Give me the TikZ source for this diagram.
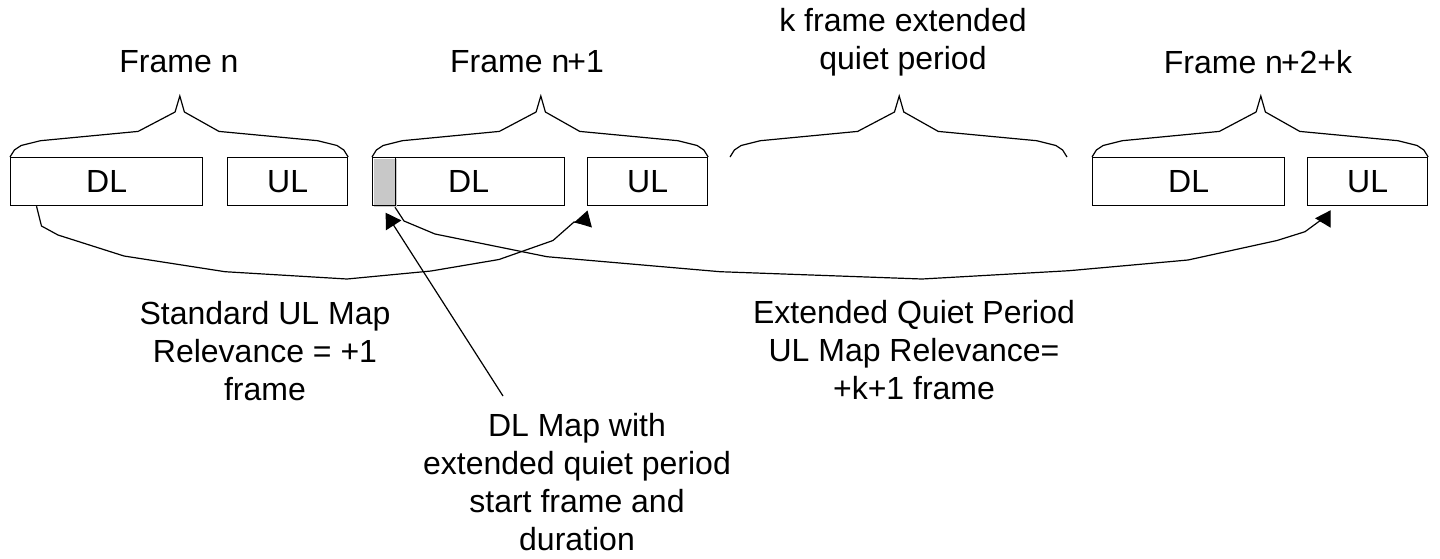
\documentclass[tikz,border=0pt]{standalone}
\usepackage{fontspec}
\setmainfont{Liberation Sans}
\usetikzlibrary{calc,arrows.meta}
\definecolor{qgray}{RGB}{200,200,200}
\tikzset{
  ln/.style={line width=1.2pt, line join=miter},
  box/.style={draw, line width=1.2pt, inner sep=0pt, minimum height=48pt, anchor=north west,
              font=\fontsize{32}{38}\selectfont},
  dlbox/.style={box, minimum width=192pt},
  ulbox/.style={box, minimum width=120pt},
  lbl/.style={inner sep=0pt, align=center, font=\fontsize{32}{38}\selectfont},
  arrowtip/.style={-{Triangle[length=15pt,width=18pt]}},
}
\newcommand\topbrace[2]{%
  \draw[ln] (#1)
    -- ($(#1)!0.013!(#2)+(0,-7)$)
    -- ($(#1)!0.033!(#2)+(0,-11.5)$)
    -- ($(#1)!0.09!(#2)+(0,-16.3)$)
    -- ($(#1)!0.3788!(#2)+(0,-25.6)$)
    -- ($(#1)!0.4881!(#2)+(0,-45)$)
    -- ($(#1)!0.5021!(#2)+(0,-61)$)
    -- ($(#1)!0.5157!(#2)+(0,-45)$)
    -- ($(#1)!0.6179!(#2)+(0,-25.6)$)
    -- ($(#1)!0.91!(#2)+(0,-16.3)$)
    -- ($(#1)!0.967!(#2)+(0,-11.5)$)
    -- ($(#1)!0.987!(#2)+(0,-7)$)
    -- (#2);}
\begin{document}
\begin{tikzpicture}[x=1pt,y=-1pt]
\useasboundingbox (0,0) rectangle (1440,558);
\fill[white] (0,0) rectangle (1440,558);

% boxes
\node[dlbox] (DL1) at (10,157) {DL};
\node[ulbox] (UL1) at (227,157) {UL};
\node[dlbox] (DL2) at (372,157) {DL};
\node[ulbox] (UL2) at (587,157) {UL};
\node[dlbox] (DL3) at (1092,157) {DL};
\node[ulbox] (UL3) at (1307,157) {UL};

% quiet-period marker inside DL of frame n+1
\fill[qgray] ($(DL2.north west)+(1.5,1.5)$) rectangle ($(DL2.north west)+(24.8,50)$);
\node[box, minimum width=22.5pt] (Q) at (DL2.north west) {};

% braces
\coordinate (qL) at (730,157);
\coordinate (qR) at (1067,157);
\topbrace{DL1.north west}{UL1.north east}
\topbrace{DL2.north west}{UL2.north east}
\topbrace{qL}{qR}
\topbrace{DL3.north west}{UL3.north east}

% top labels
\node[lbl] (fn)  at (179,62) {Frame n};
\node[lbl] (fn1) at (527,62) {Frame n\kern-2pt+1};
\node[lbl] (kq)  at (903,42.5) {k frame extended\\quiet period};
\node[lbl] (fnk) at (1258,62) {Frame n\kern-2pt+2+k};

% standard UL map relevance curve
\coordinate (c1s) at ($(DL1.south west)+(26.5,0)$);
\coordinate (c1t) at ($(UL2.south west)+(0.5,4.3)$);
\draw[ln, arrowtip] (c1s) -- (41.5,226) -- (58,235) -- (124,256) -- (225,271.7)
  -- (347,279) -- (431,271) -- (499,259.5) -- (553,240.5) -- (574,222)
  -- (583.5,223.7) -- (c1t);

% extended quiet period UL map relevance curve
\coordinate (c2s) at ($(DL2.south west)+(23,1)$);
\coordinate (c2t) at ($(UL3.south west)+(23.7,4)$);
\draw[ln, arrowtip] (c2s) -- (404,221) -- (435,234) -- (547,256.7) -- (720,271.7)
  -- (922,279) -- (1069,270.7) -- (1188,260) -- (1277,240.5) -- (1305,231.7)
  -- (1320,220.7) -- (1323.4,222.2) -- (c2t);

% DL map pointer
\coordinate (qs) at (503,396);
\coordinate (qt) at ($(Q.south)+(1.75,6.5)$);
\draw[ln, arrowtip] (qs) -- (qt);

% lower labels
\node[lbl] (std) at (265,351) {Standard UL Map\\Relevance = +1\\frame};
\node[lbl] (ext) at (914,350) {Extended Quiet Period\\UL Map Relevance=\\+k+1 frame};
\node[lbl] (dlm) at (577,482) {DL Map with\\extended quiet period\\start frame and\\duration};
\end{tikzpicture}
\end{document}
